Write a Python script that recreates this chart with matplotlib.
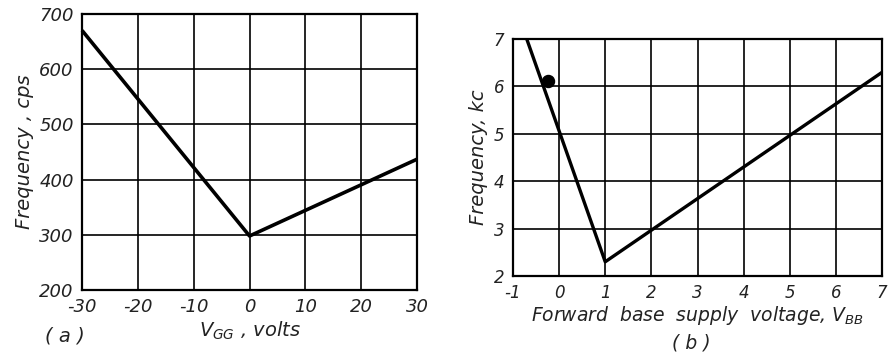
import numpy as np
from matplotlib import pyplot as plt

# (a) frequency vs V_GG
vgg = [-30, 0, 30]
freq_cps = [670, 298, 437]
vgg_ticks = [-30, -20, -10, 0, 10, 20, 30]
cps_ticks = [200, 300, 400, 500, 600, 700]

# (b) frequency vs forward base supply voltage
vbb = [-0.7, 1.0, 7.0]
freq_kc = [7.0, 2.3, 6.3]
dot_x = [-0.25]
dot_y = [6.12]
vbb_ticks = [-1, 0, 1, 2, 3, 4, 5, 6, 7]
kc_ticks = [2, 3, 4, 5, 6, 7]

plt.rcParams['font.family'] = 'DejaVu Sans'
plt.rcParams['font.style'] = 'italic'
plt.rcParams['mathtext.fontset'] = 'dejavusans'
plt.rcParams['mathtext.default'] = 'it'
plt.rcParams['axes.unicode_minus'] = False

fig = plt.figure(figsize=(8.92, 3.56), dpi=100)
ax1 = fig.add_axes([0.092, 0.185, 0.3755, 0.776])
ax2 = fig.add_axes([0.575, 0.2247, 0.414, 0.6657])


def style_axes(ax, xt, yt, size):
    ax.set_xticks(xt)
    ax.set_yticks(yt)
    ax.set_xlim(xt[0], xt[-1])
    ax.set_ylim(yt[0], yt[-1])
    ax.grid(True, color='black', linewidth=1.2)
    ax.set_axisbelow(True)
    ax.tick_params(length=0, labelsize=size, pad=6, colors='#222222')
    for s in ax.spines.values():
        s.set_linewidth(1.6)
        s.set_color('black')


style_axes(ax1, vgg_ticks, cps_ticks, 13)
ax1.plot(vgg, freq_cps, color='black', linewidth=2.6, solid_capstyle='butt', clip_on=False)
ax1.set_ylabel('Frequency , cps', fontsize=14, color='#222222', labelpad=4)
ax1.set_xlabel('$V_{GG}$ , volts', fontsize=14, color='#222222', labelpad=2)
fig.text(0.073, 0.04, '( a )', fontsize=14, color='#222222', ha='center')

style_axes(ax2, vbb_ticks, kc_ticks, 12)
ax2.plot(vbb, freq_kc, color='black', linewidth=2.4, solid_capstyle='butt')
ax2.scatter(dot_x, dot_y, s=75, color='black', zorder=5)
ax2.set_ylabel('Frequency, kc', fontsize=14, color='#222222', labelpad=4)
ax2.set_xlabel('Forward  base  supply  voltage, $V_{BB}$', fontsize=13.5,
               color='#222222', labelpad=1)
fig.text(0.775, 0.02, '( b )', fontsize=13.5, color='#222222', ha='center')

plt.savefig('out.png', dpi=100)
